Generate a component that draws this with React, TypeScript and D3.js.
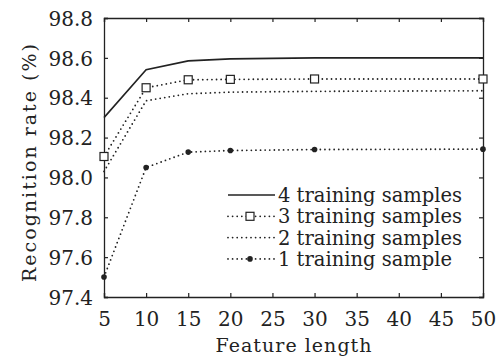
import React, { useEffect, useRef } from 'react';
import * as d3 from 'd3';

const featureLength = [5, 10, 15, 20, 30, 50];
const train4 = [98.3, 98.54, 98.585, 98.595, 98.6, 98.6];
const train3 = [98.105, 98.45, 98.49, 98.492, 98.494, 98.494];
const train2 = [98.03, 98.385, 98.42, 98.428, 98.432, 98.435];
const train1 = [97.5, 98.05, 98.127, 98.135, 98.14, 98.142];
const seriesNames = ['4 training samples', '3 training samples', '2 training samples', '1 training sample'];
const xTicks = [5, 10, 15, 20, 25, 30, 35, 40, 45, 50];
const yTicks = [97.4, 97.6, 97.8, 98.0, 98.2, 98.4, 98.6, 98.8];

const FONT = '"DejaVu Serif", serif';
const INK = '#222';

const App: React.FC = () => {
    const ref = useRef<SVGSVGElement>(null);

    useEffect(() => {
        const svg = d3.select(ref.current);
        svg.selectAll('*').remove();

        const left = 104, right = 483, top = 18, bottom = 297;
        const x = d3.scaleLinear().domain([5, 50]).range([left, right]);
        const y = d3.scaleLinear().domain([97.4, 98.8]).range([bottom, top]);

        svg.append('rect').attr('width', 498).attr('height', 358).attr('fill', '#fff');

        // axes, ticks pointing inward on all four sides
        const axes: [d3.Axis<d3.NumberValue>, string][] = [
            [d3.axisBottom(x).tickValues(xTicks).tickSize(-4).tickFormat(d3.format('d')), `translate(0,${bottom})`],
            [d3.axisTop(x).tickValues(xTicks).tickSize(-4).tickFormat(() => ''), `translate(0,${top})`],
            [d3.axisLeft(y).tickValues(yTicks).tickSize(-4).tickFormat(d3.format('.1f')), `translate(${left},0)`],
            [d3.axisRight(y).tickValues(yTicks).tickSize(-4).tickFormat(() => ''), `translate(${right},0)`],
        ];
        axes.forEach(([ax, tr], i) => {
            const g = svg.append('g').attr('transform', tr).call(ax);
            g.select('.domain').attr('stroke', INK).attr('stroke-width', 1.3);
            g.selectAll('.tick line').attr('stroke', INK).attr('stroke-width', 1.2);
            g.selectAll('.tick text')
                .attr('font-family', FONT).attr('font-size', 20).attr('fill', INK);
            if (i === 0) g.selectAll('.tick text').attr('dy', 0).attr('y', 29);
            if (i === 2) g.selectAll('.tick text').attr('x', -11).attr('dy', '0.36em');
        });

        const line = d3.line<number>().x((_, i) => x(featureLength[i])).y(d => y(d));
        const dotted = { dash: '0,4.6', w: 1.8 };

        const series = [
            { vals: train4, dash: null, marker: 'none' },
            { vals: train3, dash: dotted.dash, marker: 'square' },
            { vals: train2, dash: dotted.dash, marker: 'none' },
            { vals: train1, dash: dotted.dash, marker: 'circle' },
        ];

        const drawMarker = (g: d3.Selection<SVGGElement, unknown, null, undefined>, kind: string, cx: number, cy: number) => {
            if (kind === 'square') {
                g.append('rect').attr('x', cx - 4).attr('y', cy - 4).attr('width', 8).attr('height', 8)
                    .attr('fill', '#fff').attr('stroke', INK).attr('stroke-width', 1.2);
            } else if (kind === 'circle') {
                g.append('circle').attr('cx', cx).attr('cy', cy).attr('r', 2.8).attr('fill', INK);
            }
        };

        const plot = svg.append('g');
        series.forEach(s => {
            plot.append('path').attr('d', line(s.vals))
                .attr('fill', 'none').attr('stroke', INK)
                .attr('stroke-width', s.dash ? dotted.w : 1.6)
                .attr('stroke-linecap', s.dash ? 'round' : 'butt')
                .attr('stroke-dasharray', s.dash);
            s.vals.forEach((v, i) => drawMarker(plot, s.marker, x(featureLength[i]), y(v)));
        });

        // legend
        const lg = svg.append('g');
        series.forEach((s, i) => {
            const ly = 195 + i * 21.3;
            lg.append('line').attr('x1', 228).attr('x2', 275).attr('y1', ly).attr('y2', ly)
                .attr('stroke', INK)
                .attr('stroke-width', s.dash ? dotted.w : 1.6)
                .attr('stroke-linecap', s.dash ? 'round' : 'butt')
                .attr('stroke-dasharray', s.dash);
            drawMarker(lg, s.marker, 250, ly);
            lg.append('text').attr('x', 278).attr('y', ly).attr('dy', '0.36em')
                .attr('font-family', FONT).attr('font-size', 19.5).attr('fill', INK)
                .text(seriesNames[i]);
        });

        svg.append('text').attr('x', (left + right) / 2).attr('y', 352)
            .attr('text-anchor', 'middle').attr('font-family', FONT).attr('font-size', 19).attr('fill', INK)
            .attr('textLength', 156).attr('lengthAdjust', 'spacing')
            .text('Feature length');

        svg.append('text').attr('transform', `translate(36,163) rotate(-90)`)
            .attr('text-anchor', 'middle').attr('font-family', FONT).attr('font-size', 19).attr('fill', INK)
            .attr('textLength', 238).attr('lengthAdjust', 'spacing')
            .text('Recognition rate (%)');
    }, []);

    return <svg ref={ref} width={498} height={358} style={{ position: 'absolute', left: 0, top: 0 }} />;
};

export default App;
